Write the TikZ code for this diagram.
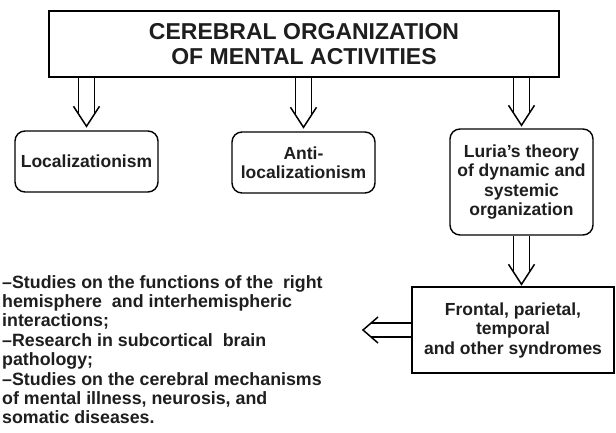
\documentclass[tikz,border=0pt]{standalone}
\usepackage{fontspec}
\setmainfont{Liberation Sans}
\usetikzlibrary{calc}
\definecolor{ink}{HTML}{1E1E1E}
\tikzset{
  sq/.style={draw=black, line width=1.4pt, text=ink, align=center, inner sep=0pt,
    font=\bfseries\fontsize{17.5}{19.5}\selectfont},
  rnd/.style={sq, rounded corners=10pt},
  arr/.style={draw=black, line width=1.5pt, line join=miter},
}
% double (hollow) arrow pointing down: #1 start, #2 tip
\newcommand\DownDbl[2]{%
  \draw[arr] ($(#1)+(-8,0)$) -- ($(#2)+(-8,-12.3)$);
  \draw[arr] ($(#1)+(8,0)$) -- ($(#2)+(8,-12.3)$);
  \draw[arr] ($(#2)+(-13,-20)$) -- (#2) -- ($(#2)+(13,-20)$);}
% double (hollow) arrow pointing left: #1 start, #2 tip
\newcommand\LeftDbl[2]{%
  \draw[arr] ($(#1)+(0,-7)$) -- ($(#2)+(8.1,-7)$);
  \draw[arr] ($(#1)+(0,7)$) -- ($(#2)+(8.1,7)$);
  \draw[arr] ($(#2)+(15,-13)$) -- (#2) -- ($(#2)+(15,13)$);}
\begin{document}
\begin{tikzpicture}[x=1pt,y=-1pt]
\useasboundingbox[fill=white] (0,0) rectangle (616,432);
\node[sq, minimum width=510pt, minimum height=66pt,
  font=\bfseries\fontsize{23}{25}\selectfont] (top) at (304,44)
  {CEREBRAL ORGANIZATION\\OF MENTAL ACTIVITIES};
\node[rnd, minimum width=143pt, minimum height=61pt] (loc) at (86.5,161.5) {Localizationism};
\node[rnd, minimum width=143pt, minimum height=61pt] (anti) at (303.5,162.5) {Anti-\\localizationism};
\node[rnd, minimum width=143pt, minimum height=106pt] (luria) at (521.5,182)
  {Luria's theory\\of dynamic and\\systemic\\organization};
\node[sq, minimum width=202pt, minimum height=86pt] (front) at (513,330)
  {Frontal, parietal,\\temporal\\and other syndromes};
\node[anchor=north west, align=left, inner sep=0pt, text=ink,
  font=\bfseries\fontsize{17.8}{19.4}\selectfont] (list) at (2,275)
  {–Studies on the functions of the~ right\\
   hemisphere~ and interhemispheric\\
   interactions;\\
   –Research in subcortical~ brain\\
   pathology;\\
   –Studies on the cerebral mechanisms\\
   of mental illness, neurosis, and\\
   somatic diseases.};
\coordinate (s1) at (top.south -| loc.north);
\coordinate (t1) at ($(loc.north)+(0,-4)$);
\coordinate (s2) at (top.south -| anti.north);
\coordinate (t2) at ($(anti.north)+(0,-4)$);
\coordinate (s3) at (top.south -| luria.north);
\coordinate (t3) at ($(luria.north)+(0,-3)$);
\coordinate (s4) at (luria.south);
\coordinate (t4) at ($(luria.south |- front.north)+(0,-2)$);
\coordinate (tipL) at (363,330);
\DownDbl{s1}{t1}
\DownDbl{s2}{t2}
\DownDbl{s3}{t3}
\DownDbl{s4}{t4}
\LeftDbl{front.west}{tipL}
\end{tikzpicture}
\end{document}
